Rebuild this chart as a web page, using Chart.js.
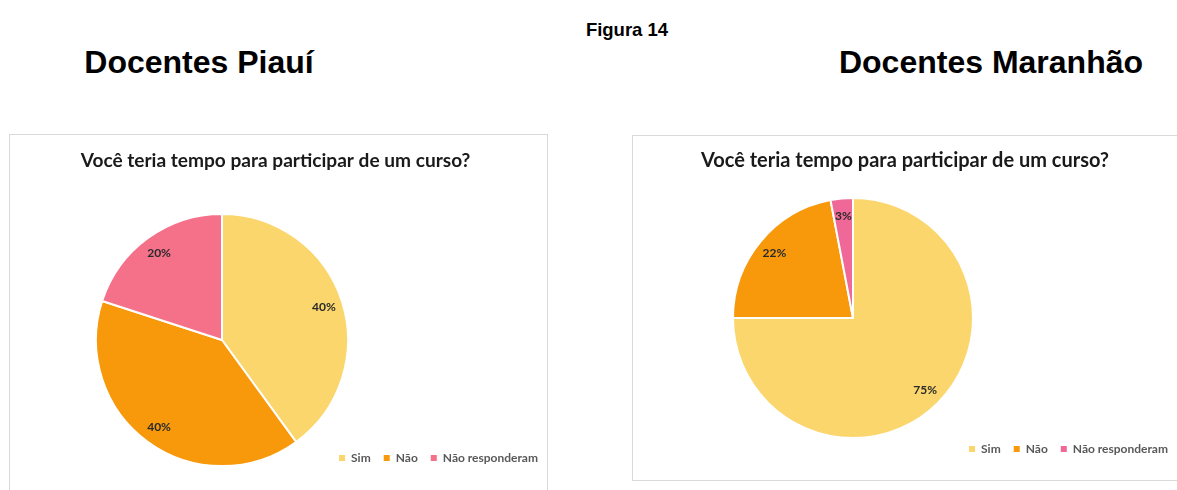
<!DOCTYPE html>
<html lang="pt">
<head>
<meta charset="utf-8">
<script src="https://cdn.jsdelivr.net/npm/chart.js@4.4.1/dist/chart.umd.min.js"></script>
<style>
  html, body { margin: 0; padding: 0; width: 1177px; height: 490px; overflow: hidden; background: #fff; }
  .head { position: absolute; transform: translateX(-50%); white-space: nowrap;
          font-family: "Liberation Sans", Arial, sans-serif; font-weight: bold; color: #000; }
  .box { position: absolute; border: 1px solid #d9d9d9; box-sizing: border-box; }
  canvas { position: absolute; }
</style>
</head>
<body>
<div class="head" style="left:627px; top:19px; font-size:18.5px; line-height:22px;">Figura 14</div>
<div class="head" style="left:199px; top:43px; font-size:32px; line-height:38px;">Docentes Piauí</div>
<div class="head" style="left:991px; top:43px; font-size:32px; line-height:38px;">Docentes Maranhão</div>

<div class="box" style="left:9px; top:134px; width:539px; height:400px;"></div>
<div class="box" style="left:632px; top:135px; width:600px; height:346px;"></div>

<canvas id="chartPI" width="558" height="355" style="left:0; top:135px;"></canvas>
<canvas id="chartMA" width="559" height="345" style="left:629px; top:135px;"></canvas>

<script>
// -------- dados ----------
const categorias   = ["Sim", "Não", "Não responderam"];
const valoresPI    = [40, 40, 20];   // Docentes Piauí (%)
const valoresMA    = [75, 22, 3];    // Docentes Maranhão (%)
const tituloGrafico = "Você teria tempo para participar de um curso?";

const coresPI = ["#FAD66D", "#F7990B", "#F5718A"];
const coresMA = ["#FAD66D", "#F7990B", "#EF6898"];

// -------- plugins ----------
// põe o centro e o raio da pizza; título e legenda ficam onde o Chart.js os coloca
const pieBox = {
  id: "pieBox",
  afterLayout(chart, args, o) {
    const a = chart.chartArea;
    a.left = o.x - o.r; a.right = o.x + o.r;
    a.top = o.y - o.r;  a.bottom = o.y + o.r;
    a.width = 2 * o.r;  a.height = 2 * o.r;
  }
};

// rótulos de % dentro das fatias
const pctLabels = {
  id: "pctLabels",
  afterDatasetsDraw(chart, args, o) {
    const ctx = chart.ctx;
    const vals = chart.data.datasets[0].data;
    ctx.save();
    ctx.font = o.font;
    ctx.fillStyle = o.color;
    ctx.textAlign = "center";
    ctx.textBaseline = "middle";
    chart.getDatasetMeta(0).data.forEach((arc, i) => {
      const p = arc.getProps(["x", "y", "startAngle", "endAngle", "outerRadius"], true);
      const mid = (p.startAngle + p.endAngle) / 2;
      const d = p.outerRadius * o.dist;
      ctx.fillText(vals[i] + "%", p.x + Math.cos(mid) * d, p.y + Math.sin(mid) * d);
    });
    ctx.restore();
  }
};

function buildPie(id, values, colors, cfg) {
  return new Chart(document.getElementById(id), {
    type: "pie",
    data: {
      labels: categorias,
      datasets: [{ data: values, backgroundColor: colors, borderColor: "#fff", borderWidth: 2 }]
    },
    plugins: [pieBox, pctLabels],
    options: {
      responsive: false,
      devicePixelRatio: 1,
      animation: false,
      layout: { padding: { bottom: cfg.legendBottom, right: 7 } },
      plugins: {
        title: {
          display: true,
          text: tituloGrafico,
          color: "#1a1a1a",
          font: { family: "Lato", size: cfg.titleSize, weight: "bold" },
          padding: { top: 14, bottom: 10 }
        },
        legend: {
          position: "bottom",
          align: "end",
          labels: {
            boxWidth: 6,
            boxHeight: 6,
            padding: 13,
            color: "#595959",
            font: { family: "Lato", size: 12, weight: "bold" },
            generateLabels: (ch) =>
              Chart.overrides.pie.plugins.legend.labels.generateLabels(ch).map(l => ({ ...l, lineWidth: 0 }))
          }
        },
        tooltip: { enabled: false },
        pieBox: { x: cfg.x, y: cfg.y, r: cfg.r },
        pctLabels: { font: "bold 12px Lato", color: "#2a2a2a", dist: 0.85 }
      }
    }
  });
}

buildPie("chartPI", valoresPI, coresPI, { x: 222, y: 205, r: 127, titleSize: 19.1, legendBottom: 16 });
buildPie("chartMA", valoresMA, coresMA, { x: 224, y: 183, r: 121, titleSize: 20, legendBottom: 15 });
</script>
</body>
</html>
